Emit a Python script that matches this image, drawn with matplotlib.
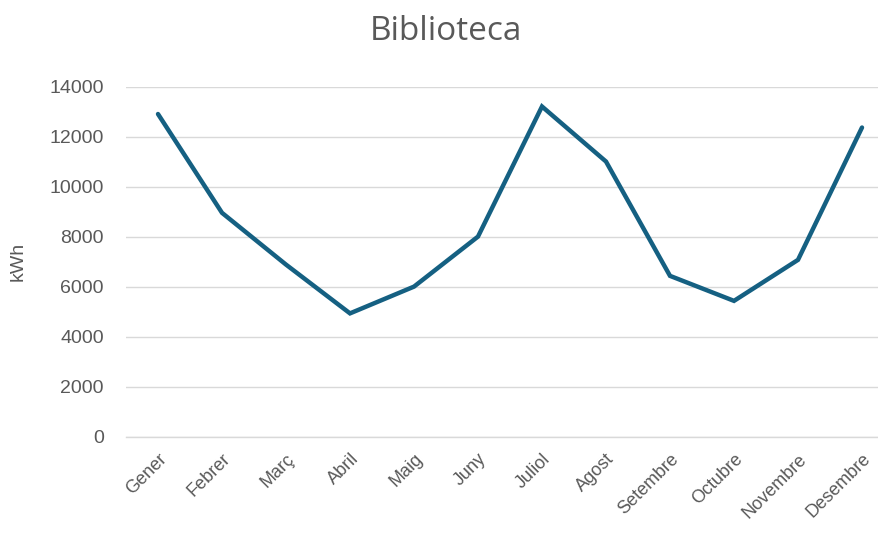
import matplotlib
matplotlib.use("Agg")
import matplotlib.pyplot as plt

months = ["Gener", "Febrer", "Març", "Abril", "Maig", "Juny", "Juliol",
          "Agost", "Setembre", "Octubre", "Novembre", "Desembre"]
kwh = [12900, 8950, 6880, 4930, 6000, 8000, 13200, 11000, 6430, 5430, 7070, 12360]
yticks = [0, 2000, 4000, 6000, 8000, 10000, 12000, 14000]

plt.rcParams['font.family'] = ['Liberation Sans', 'DejaVu Sans']
W, H = 879, 537
fig = plt.figure(figsize=(W / 100, H / 100), dpi=100)
left, right = 126 / W, 1.0
bottom, top = (H - 436.7) / H, (H - 86.5) / H
ax = fig.add_axes([left, bottom, right - left, top - bottom])

x = list(range(len(months)))
ax.plot(x, kwh, color="#156082", linewidth=3.2, solid_capstyle="round", solid_joinstyle="miter", zorder=3)

ax.set_xlim(-0.5, 11 + 17 / 64)
ax.set_ylim(0, 14000)
ax.set_yticks(yticks)
ax.set_yticklabels([str(v) for v in yticks])
ax.set_xticks(x)
ax.set_xticklabels(months, rotation=45, ha="right", rotation_mode="anchor")
ax.tick_params(axis="both", length=0, colors="#595959")
ax.tick_params(axis="y", pad=16, labelsize=14)
ax.tick_params(axis="x", pad=10, labelsize=13)
ax.grid(axis="y", color="#D9D9D9", linewidth=1)
ax.set_axisbelow(True)
for s in ["top", "right", "left"]:
    ax.spines[s].set_visible(False)
ax.spines["bottom"].set_color("#D9D9D9")
ax.spines["bottom"].set_linewidth(1)

ax.set_ylabel("kWh", color="#595959", fontsize=14, labelpad=16)
fig.text(446 / W, 1 - 32 / H, "Biblioteca", ha="center", va="center",
         fontsize=24, color="#595959", family=["Open Sans", "DejaVu Sans"])

fig.savefig("out.png", dpi=100, facecolor="white")
